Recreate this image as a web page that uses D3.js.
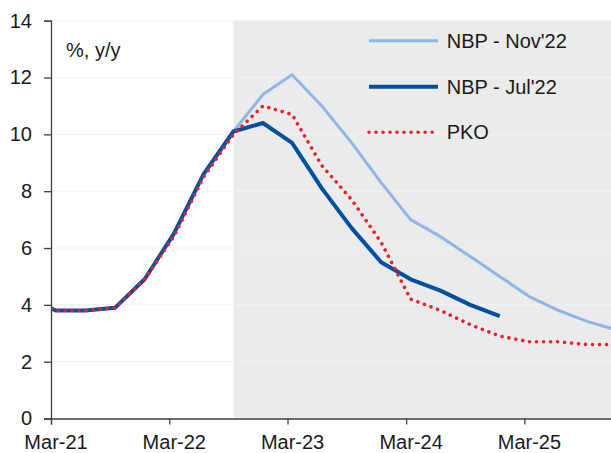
<!DOCTYPE html>
<html>
<head>
<meta charset="utf-8">
<script src="https://cdn.jsdelivr.net/npm/d3@7"></script>
<style>
  html, body { margin: 0; padding: 0; background: #fff; }
  svg { display: block; }
  text { font-family: "Liberation Sans", Arial, sans-serif; fill: #1a1a1a; }
</style>
</head>
<body>
<svg id="chart" width="611" height="453"></svg>
<script>
// ---- data ----
const dates = ["2020-12-15","2021-03-15","2021-06-15","2021-09-15","2021-12-15",
  "2022-03-15","2022-06-15","2022-09-15","2022-12-15","2023-03-15","2023-06-15",
  "2023-09-15","2023-12-15","2024-03-15","2024-06-15","2024-09-15","2024-12-15",
  "2025-03-15","2025-06-15","2025-09-15","2025-12-15"];
const nbpNov22 = [4.3,3.8,3.8,3.9,4.9,6.5,8.6,10.1,11.4,12.1,11.0,9.7,8.3,7.0,6.4,5.7,5.0,4.3,3.8,3.4,3.1];
const nbpJul22 = [4.3,3.8,3.8,3.9,4.9,6.5,8.6,10.1,10.4,9.7,8.1,6.7,5.5,4.9,4.5,4.0,3.6,null,null,null,null];
const pko      = [4.3,3.8,3.8,3.9,4.9,6.4,8.5,10.0,11.0,10.7,8.9,7.7,6.2,4.2,3.8,3.3,2.9,2.7,2.7,2.6,2.6];
const seriesNames = ["NBP - Nov'22", "NBP - Jul'22", "PKO"];
const yTicks = [0,2,4,6,8,10,12,14];
const xTickDates = ["2021-03-01","2022-03-01","2023-03-01","2024-03-01","2025-03-01"];
const forecastStart = "2022-09-15";
const xDomain = ["2021-03-01","2025-12-15"];
const unitLabel = "%, y/y";

// ---- layout ----
const svg = d3.select("#chart");
const parse = d3.timeParse("%Y-%m-%d");
const mLeft = 51, mRight = 618, mTop = 20.7, mBottom = 418.5;

const x = d3.scaleTime().domain(xDomain.map(parse)).range([mLeft, mRight]);
const y = d3.scaleLinear().domain([0, 14]).range([mBottom, mTop]);

svg.append("defs").append("clipPath").attr("id", "plotClip")
  .append("rect").attr("x", mLeft).attr("y", mTop - 5)
  .attr("width", 611 - mLeft).attr("height", mBottom - mTop + 5);

// shaded forecast area
svg.append("rect")
  .attr("x", x(parse(forecastStart))).attr("y", y(14))
  .attr("width", x.range()[1] - x(parse(forecastStart)))
  .attr("height", y(0) - y(14))
  .attr("fill", "#ebebeb");

// gridlines
svg.append("g").selectAll("line").data(yTicks.filter(d => d > 0)).join("line")
  .attr("x1", mLeft).attr("x2", 611)
  .attr("y1", d => y(d)).attr("y2", d => y(d))
  .attr("stroke", "#f3f3f3").attr("stroke-width", 1);

// lines
const mk = (vals) => vals.map((v, i) => ({ date: parse(dates[i]), v }));
const line = d3.line().defined(d => d.v != null).x(d => x(d.date)).y(d => y(d.v));
const styles = [
  { data: nbpNov22, color: "#8fb6e6", width: 3, dash: null },
  { data: nbpJul22, color: "#00509f", width: 4, dash: null },
  { data: pko, color: "#e8212d", width: 3.6, dash: "0.01 7" }
];
const plot = svg.append("g").attr("clip-path", "url(#plotClip)");
styles.forEach(s => {
  plot.append("path").datum(mk(s.data))
    .attr("d", line).attr("fill", "none")
    .attr("stroke", s.color).attr("stroke-width", s.width)
    .attr("stroke-linejoin", "round")
    .attr("stroke-linecap", s.dash ? "round" : "butt")
    .attr("stroke-dasharray", s.dash);
});

// y axis
const yAxis = d3.axisLeft(y).tickValues(yTicks).tickSize(7).tickPadding(12).tickFormat(d3.format("d"));
const gy = svg.append("g").attr("transform", `translate(${mLeft},0)`).call(yAxis);
gy.select(".domain").attr("stroke", "#404040").attr("stroke-width", 1.3);
gy.selectAll(".tick line").attr("stroke", "#404040").attr("stroke-width", 1.3);
gy.selectAll("text").attr("font-size", 20).attr("fill", "#1a1a1a")
  .style("font-family", '"Liberation Sans", Arial, sans-serif');

// x axis (labels centred on the mid-month data position)
const labelShift = x(parse("2021-03-15")) - x(parse("2021-03-01"));
const xAxis = d3.axisBottom(x).tickValues(xTickDates.map(parse)).tickSize(6).tickPadding(10)
  .tickFormat(d3.timeFormat("%b-%y"));
const gx = svg.append("g").attr("transform", `translate(0,${mBottom})`).call(xAxis);
gx.select(".domain").attr("stroke", "#404040").attr("stroke-width", 1.3);
gx.selectAll(".tick line").attr("stroke", "#404040").attr("stroke-width", 1.3);
gx.selectAll("text").attr("font-size", 20).attr("fill", "#1a1a1a").attr("dx", labelShift)
  .style("font-family", '"Liberation Sans", Arial, sans-serif');

// unit label
svg.append("text").attr("x", 66).attr("y", 57).attr("font-size", 20).text(unitLabel);

// legend
const lg = svg.append("g");
const legY = [40.7, 86.7, 132.3];
seriesNames.forEach((name, i) => {
  const s = styles[i];
  lg.append("line").attr("x1", 369).attr("x2", s.dash ? 435 : 438)
    .attr("y1", legY[i]).attr("y2", legY[i])
    .attr("stroke", s.color).attr("stroke-width", s.width)
    .attr("stroke-linecap", s.dash ? "round" : "butt")
    .attr("stroke-dasharray", s.dash);
  lg.append("text").attr("x", 446.7).attr("y", legY[i] + 7).attr("font-size", 20).text(name);
});
</script>
</body>
</html>
